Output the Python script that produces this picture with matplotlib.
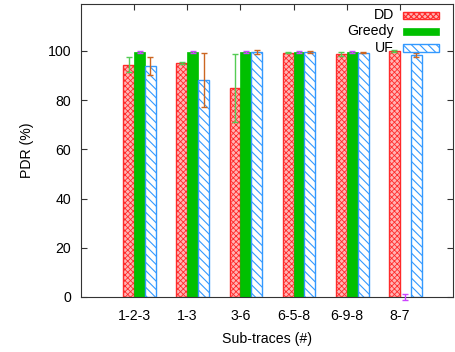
import matplotlib
matplotlib.use("Agg")
import matplotlib.pyplot as plt
from matplotlib.patches import Rectangle
import numpy as np

plt.rcParams['font.family'] = ['Liberation Sans', 'DejaVu Sans']

categories = ["1-2-3", "1-3", "3-6", "6-5-8", "6-9-8", "8-7"]
dd_vals = [94.3, 95.0, 84.8, 99.3, 98.6, 99.9]
dd_err = [3.0, 0.5, 13.9, 0.4, 0.8, 0.3]
greedy_vals = [99.5, 99.5, 99.5, 99.6, 99.5, 0.0]
greedy_err = [0.4, 0.4, 0.4, 0.4, 0.3, 1.2]
uf_vals = [93.9, 88.2, 99.5, 99.6, 99.2, 98.2]
uf_err = [3.6, 11.0, 1.0, 0.5, 0.3, 0.9]
yticks = [0, 20, 40, 60, 80, 100]

fig = plt.figure(figsize=(4.56, 3.52), dpi=100)
ax = fig.add_axes([81/456, 55/352, 372/456, 293/352])

x = np.arange(len(categories))
w = 0.205
fs = 10.2

red_edge = '#ff2a2a'
dd_face = '#ffb4b4'
green = '#00c000'
blue = '#3399ff'

plt.rcParams['hatch.linewidth'] = 0.6
ax.bar(x - w/2, dd_vals, w, facecolor=dd_face, edgecolor=red_edge, hatch='xxxxxx', linewidth=1.0, zorder=2)
plt.rcParams['hatch.linewidth'] = 0.8
ax.bar(x + w/2, greedy_vals, w, facecolor=green, edgecolor=green, linewidth=0.5, zorder=2)
ax.bar(x + 1.5*w, uf_vals, w, facecolor='white', edgecolor=blue, hatch='\\\\\\\\', linewidth=1.0, zorder=2)

ekw = dict(fmt='none', capsize=2.5, elinewidth=1.0, capthick=1.0, zorder=4, clip_on=False)
ax.errorbar(x - w/2, dd_vals, yerr=dd_err, ecolor='#55cc55', **ekw)
ax.errorbar(x + w/2, greedy_vals, yerr=greedy_err, ecolor='#cc44ff', **ekw)
ax.errorbar(x + 1.5*w, uf_vals, yerr=uf_err, ecolor='#cc6622', **ekw)

ax.set_xlim(-1, 6)
ax.set_ylim(0, 119)
ax.set_xticks(x)
ax.set_xticklabels(categories)
ax.set_yticks(yticks)
ax.tick_params(direction='in', length=4, width=0.8, labelsize=fs, top=True, right=True, color='#333333')
ax.tick_params(axis='y', pad=7)
ax.tick_params(axis='x', pad=9)
for s in ax.spines.values():
    s.set_linewidth(0.8)
    s.set_color('#333333')

ax.set_ylabel('PDR (%)', fontsize=fs, labelpad=10)
ax.set_xlabel('Sub-traces (#)', fontsize=fs, labelpad=6)

# legend (gnuplot style, text right aligned, key box on right)
def ax_x(px):
    return (px - 81) / 372
def ax_y(py):
    return (297 - py) / 293

labels = ['DD', 'Greedy', 'UF']
rows = [15, 31.5, 48]
styles = [dict(facecolor=dd_face, edgecolor=red_edge, hatch='xxxxxx', linewidth=1.0),
          dict(facecolor=green, edgecolor=green, linewidth=0.5),
          dict(facecolor='white', edgecolor=blue, hatch='\\\\\\\\', linewidth=1.0)]
for lab, py, st in zip(labels, rows, styles):
    ax.text(ax_x(394), ax_y(py), lab, transform=ax.transAxes, ha='right', va='center', fontsize=fs, zorder=5)
    r = Rectangle((ax_x(403), ax_y(py + 3.5)), ax_x(439) - ax_x(403), ax_y(py - 3.5) - ax_y(py + 3.5),
                  transform=ax.transAxes, zorder=5, **st)
    ax.add_patch(r)

fig.savefig('out.png', dpi=100)
